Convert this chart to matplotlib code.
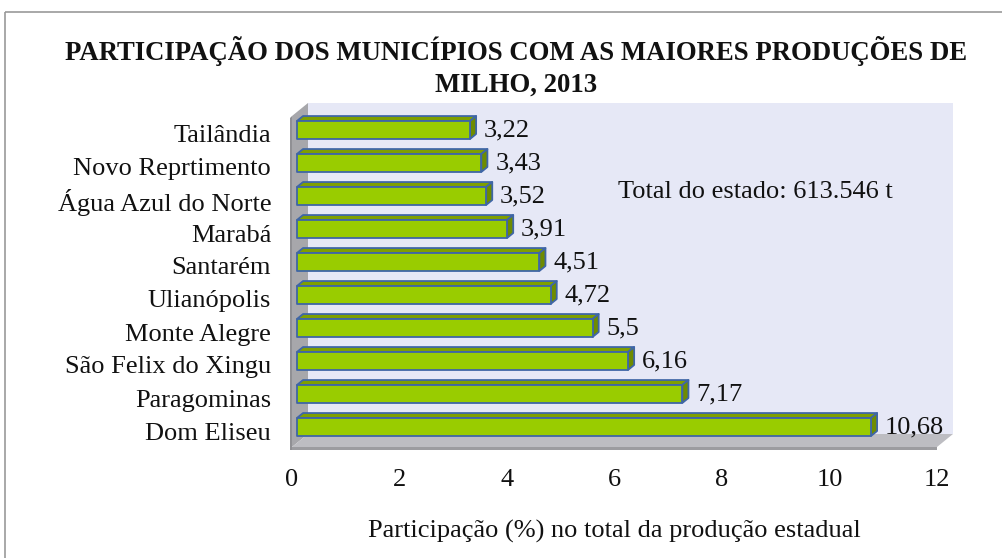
import matplotlib
matplotlib.use('Agg')
import matplotlib.pyplot as plt
from matplotlib.patches import Polygon, Rectangle
from matplotlib.transforms import IdentityTransform, Affine2D
import numpy as np

categories = ['Dom Eliseu', 'Paragominas', 'São Felix do Xingu', 'Monte Alegre',
              'Ulianópolis', 'Santarém', 'Marabá', 'Água Azul do Norte',
              'Novo Reprtimento', 'Tailândia']
values = [10.68, 7.17, 6.16, 5.5, 4.72, 4.51, 3.91, 3.52, 3.43, 3.22]
value_labels = ['10,68', '7,17', '6,16', '5,5', '4,72', '4,51', '3,91', '3,52', '3,43', '3,22']
xticks = [0, 2, 4, 6, 8, 10, 12]
title1 = 'PARTICIPAÇÃO DOS MUNICÍPIOS COM AS MAIORES PRODUÇÕES DE'
title2 = 'MILHO, 2013'
xlabel = 'Participação (%) no total da produção estadual'
note = 'Total do estado: 613.546 t'

W, H = 1003, 558
DPI = 100
plt.rcParams['font.family'] = ['Liberation Serif', 'DejaVu Serif']

fig = plt.figure(figsize=(W / DPI, H / DPI), dpi=DPI)
pix = Affine2D().scale(1 / W, -1 / H).translate(0, 1) + fig.transFigure

fig.patches.append(Rectangle((5, 12), 1100, 700, transform=pix, fill=False,
                             edgecolor='#9a9a9a', lw=1.2, zorder=0))

x0, x1 = 292, 937
ytop, ybot = 116, 447
ax = fig.add_axes([x0 / W, 1 - ybot / H, (x1 - x0) / W, (ybot - ytop) / H])
ax.set_zorder(10)
ax.set_xlim(0, 12)
yzero_px = 431
ppu = 33.0
ax.set_ylim(-(ybot - yzero_px) / ppu, (yzero_px - ytop) / ppu)
ax.patch.set_visible(False)
for s in ax.spines.values():
    s.set_visible(False)

DX, DY = 16.0, 13.0


def P(x, y, d):
    px, py = ax.transData.transform((x, y))
    return (px + d * DX, py + d * DY)


def poly(pts, fc, ec='none', lw=0, z=1):
    p = Polygon(pts, closed=True, facecolor=fc, edgecolor=ec, lw=lw,
                transform=IdentityTransform(), clip_on=False, zorder=z,
                joinstyle='round')
    fig.patches.append(p)


ymin, ymax = ax.get_ylim()
xmin, xmax = 0, 12
poly([P(xmin, ymin, 1), P(xmax, ymin, 1), P(xmax, ymax, 1), P(xmin, ymax, 1)], '#e6e8f6')
poly([P(xmin, ymin, 0), P(xmin, ymax, 0), P(xmin, ymax, 1), P(xmin, ymin, 1)], '#a7a7ab')
poly([P(xmin, ymin, 0), P(xmax, ymin, 0), P(xmax, ymin, 1), P(xmin, ymin, 1)], '#bdbdc2')
fx0, fy0 = P(xmin, ymin, 0)
fx1, _ = P(xmax, ymin, 0)
poly([(fx0, fy0), (fx1, fy0), (fx1, fy0 - 3), (fx0, fy0 - 3)], '#9c9ca0')
lx, ly0 = P(xmin, ymin, 0)
_, ly1 = P(xmin, ymax, 0)
poly([(lx, ly0 - 3), (lx, ly1), (lx - 2, ly1 - 2), (lx - 2, ly0 - 3)], '#909094')

bh = 0.545
d0, d1 = 0.31, 0.69
front_c, top_c, side_c, edge_c = '#99cc00', '#7f9f00', '#6e8c00', '#3f66a6'
for i, v in enumerate(values):
    yb, yt = i - bh / 2, i + bh / 2
    poly([P(0, yt, d0), P(v, yt, d0), P(v, yt, d1), P(0, yt, d1)], top_c, edge_c, 1.3, 3)
    poly([P(v, yb, d0), P(v, yb, d1), P(v, yt, d1), P(v, yt, d0)], side_c, edge_c, 1.3, 3)
    poly([P(0, yb, d0), P(v, yb, d0), P(v, yt, d0), P(0, yt, d0)], front_c, edge_c, 1.3, 4)
    ax.annotate(value_labels[i], xy=(v, i), xytext=(d0 * DX + 14, d0 * DY),
                textcoords='offset pixels', ha='left', va='center',
                fontsize=19, color='#111111', zorder=6)

ax.set_yticks(range(len(categories)))
ax.set_yticklabels(categories, fontsize=19)
ax.set_xticks(xticks)
ax.set_xticklabels([str(t) for t in xticks], fontsize=19)
ax.tick_params(axis='y', length=0, pad=15, colors='#111111')
ax.tick_params(axis='x', length=0, pad=16, colors='#111111')

fig.text(614, 531, xlabel, transform=pix, ha='center', va='center', fontsize=19, color='#111111')
fig.text(618, 198, note, transform=pix, ha='left', va='baseline', fontsize=19, color='#111111')
fig.text(516, 60, title1, transform=pix, ha='center', va='baseline', fontsize=19.3,
         fontweight='bold', color='#111111')
fig.text(516, 92, title2, transform=pix, ha='center', va='baseline', fontsize=19.3,
         fontweight='bold', color='#111111')

fig.savefig('out.png', dpi=DPI)
